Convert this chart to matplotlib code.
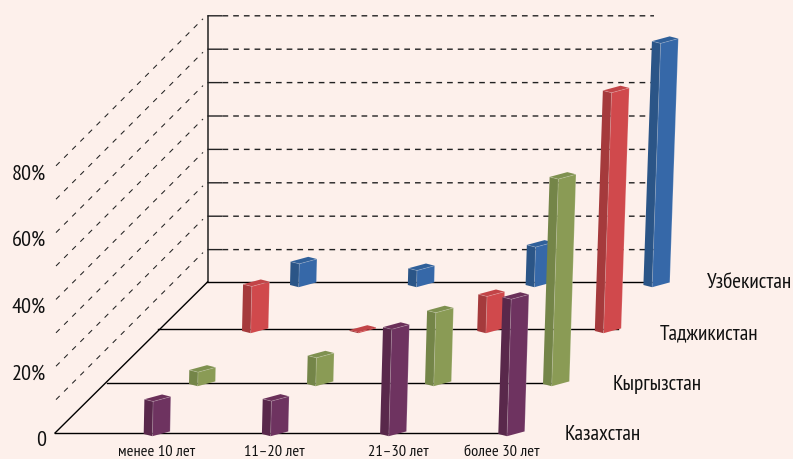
import matplotlib
matplotlib.use("Agg")
import matplotlib.pyplot as plt
from matplotlib import font_manager as fm
from matplotlib.patches import Polygon

categories = ["менее 10 лет", "11–20 лет", "21–30 лет", "более 30 лет"]
series_names = ["Казахстан", "Кыргызстан", "Таджикистан", "Узбекистан"]
kazakhstan = [10.4, 10.5, 32, 41]
kyrgyzstan = [4.2, 8.5, 22, 62]
tajikistan = [14, 0.3, 11, 72]
uzbekistan = [7, 5, 12, 73]
y_tick_values = [0, 20, 40, 60, 80]
y_tick_labels = ["0", "20%", "40%", "60%", "80%"]
grid_values = [10, 20, 30, 40, 50, 60, 70, 80]
series_values = [kazakhstan, kyrgyzstan, tajikistan, uzbekistan]

BG = "#FDF0EB"
COL_FRONT = ["#6E3360", "#8A9B55", "#D0494C", "#3668A8"]
COL_SIDE = ["#59284B", "#748548", "#A53A3C", "#2B5587"]
COL_TOP = ["#6A3059", "#7F9150", "#C24447", "#30609A"]

# pseudo-3D projection parameters (pixels)
PX_PER_PCT = 3.34
FLOOR_X = [55, 107, 158, 207]
FLOOR_Y = [433, 382.5, 329, 281.5]
FLOOR_END = [510, 555, 618, 660]
BAR_X0 = [143.7, 189, 242, 290]
BAR_Y0 = [434, 384, 331, 285]
CAT_STEP = [118.2, 118.0, 117.6, 117.8]
NUDGE = {(2, 1): -10}
LEFT_DX, LEFT_DY = 8.7, 2.2
RIGHT_DX, RIGHT_DY = 17.7, -4.8
GRID_BASE_Y = 283.0


def lean(x):
    return 0.02 + 0.00003 * (x - 144)


names = {f.name for f in fm.fontManager.ttflist}
FONT = next((n for n in ["PT Sans Narrow", "Roboto Condensed", "Fira Sans Condensed", "Roboto"] if n in names), "DejaVu Sans")

fig = plt.figure(figsize=(7.93, 4.59), dpi=100, facecolor=BG)
ax = fig.add_axes([0, 0, 1, 1])
ax.set_xlim(0, 793)
ax.set_ylim(459, 0)
ax.axis("off")

# back wall grid
back_y0, back_x = FLOOR_Y[3] + 0.5, FLOOR_X[3] + 0.5
front_y0, front_x = FLOOR_Y[0], FLOOR_X[0]
for v in grid_values:
    y = GRID_BASE_Y - v * PX_PER_PCT
    ax.plot([back_x, back_x + 15], [y, y], color="#222222", lw=1.0, snap=False, zorder=1, solid_capstyle="butt")
    ax.plot([back_x + 15, 654], [y, y], color="#222222", lw=1.0, dashes=(4.1, 3.6), snap=False, zorder=1)
    yf = front_y0 - v * PX_PER_PCT
    ax.plot([front_x + 1, back_x - 4.5], [yf, y + 3], color="#222222", lw=0.75, dashes=(5, 6), snap=False, zorder=1)

# wall axis, floor edges
top_y = GRID_BASE_Y - 80 * PX_PER_PCT
ax.plot([back_x, back_x], [top_y, back_y0], color="#222222", lw=1.1, zorder=1.2)
ax.plot([front_x, back_x], [front_y0, back_y0], color="black", lw=1.0, zorder=1.2)
for fx, fy, fe in zip(FLOOR_X, FLOOR_Y, FLOOR_END):
    ax.plot([fx, fe], [fy, fy], color="black", lw=1.0, zorder=1.2)

# bars, back to front
z = 2
for row in range(3, -1, -1):
    for cat, value in enumerate(series_values[row]):
        x = BAR_X0[row] + cat * CAT_STEP[row] + NUDGE.get((row, cat), 0)
        y = BAR_Y0[row]
        h = value * PX_PER_PCT
        s = lean(x) * h
        bl = (x, y)
        bf = (x + LEFT_DX, y + LEFT_DY)
        br = (bf[0] + RIGHT_DX, bf[1] + RIGHT_DY)
        tl = (x + s, y - h)
        tf = (tl[0] + LEFT_DX, tl[1] + LEFT_DY)
        tr = (tf[0] + RIGHT_DX, tf[1] + RIGHT_DY)
        tb = (tl[0] + RIGHT_DX, tl[1] + RIGHT_DY)
        ax.add_patch(Polygon([bf, br, tr, tf], fc=COL_FRONT[row], ec="none", zorder=z))
        ax.add_patch(Polygon([bl, bf, tf, tl], fc=COL_SIDE[row], ec="none", zorder=z))
        ax.add_patch(Polygon([tl, tf, tr, tb], fc=COL_TOP[row], ec="none", zorder=z))
        if value > 1:
            for a, b in ((bf, tf), (tl, tf), (tf, tr), (tr, br)):
                ax.plot([a[0], b[0]], [a[1], b[1]], color="white", alpha=0.22, lw=0.6, zorder=z, solid_capstyle="butt")
        z += 1

# labels
for v, lab in zip(y_tick_values, y_tick_labels):
    ax.text(46, front_y0 + 8 - v * PX_PER_PCT, lab, ha="right", va="center", family=FONT,
            fontsize=16, color="#111111")

for lab, cx in zip(categories, [156.7, 274.5, 398, 502]):
    ax.text(cx, 451.5, lab, ha="center", va="center", family=FONT, fontsize=11.8, color="#111111")

for lab, x0, yc in zip(series_names, [565, 612.7, 660, 706.7], [434, 385, 334, 283]):
    ax.text(x0, yc, lab, ha="left", va="center", family=FONT, fontsize=15.4, color="#111111")

fig.savefig("out.png", dpi=100, facecolor=BG)
